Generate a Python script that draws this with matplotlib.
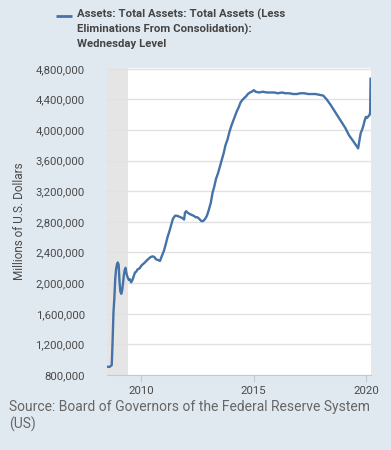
import pandas as pd
import matplotlib.pyplot as plt
import matplotlib.ticker as mticker

# Fed total assets (millions of USD)
dates = ['2008-07-02', '2008-08-06', '2008-09-10', '2008-09-24', '2008-10-08', '2008-10-22',
         '2008-11-05', '2008-11-19', '2008-12-03', '2008-12-17', '2008-12-31', '2009-01-14',
         '2009-01-28', '2009-02-11', '2009-02-25', '2009-03-11', '2009-03-25', '2009-04-08',
         '2009-04-22', '2009-05-06', '2009-05-20', '2009-06-03', '2009-06-17', '2009-07-01',
         '2009-07-22', '2009-08-12', '2009-09-02', '2009-09-23', '2009-10-14', '2009-11-04',
         '2009-12-02', '2010-01-06', '2010-02-03', '2010-03-03', '2010-04-07', '2010-05-05',
         '2010-06-02', '2010-07-07', '2010-08-04', '2010-09-01', '2010-10-06', '2010-11-03',
         '2010-12-01', '2011-01-05', '2011-02-02', '2011-03-02', '2011-04-06', '2011-05-04',
         '2011-06-01', '2011-07-06', '2011-08-03', '2011-09-07', '2011-10-05', '2011-11-02',
         '2011-11-30', '2011-12-14', '2012-01-04', '2012-01-25', '2012-02-15', '2012-03-07',
         '2012-04-04', '2012-05-02', '2012-06-06', '2012-07-04', '2012-08-01', '2012-09-05',
         '2012-10-03', '2012-11-07', '2012-12-05', '2013-01-02', '2013-02-06', '2013-03-06',
         '2013-04-03', '2013-05-01', '2013-06-05', '2013-07-03', '2013-08-07', '2013-09-04',
         '2013-10-02', '2013-11-06', '2013-12-04', '2014-01-08', '2014-02-05', '2014-03-05',
         '2014-04-02', '2014-05-07', '2014-06-04', '2014-07-02', '2014-08-06', '2014-09-03',
         '2014-10-01', '2014-11-05', '2014-12-03', '2015-01-07', '2015-02-04', '2015-04-01',
         '2015-06-03', '2015-08-05', '2015-10-07', '2015-12-02', '2016-02-03', '2016-04-06',
         '2016-06-01', '2016-08-03', '2016-10-05', '2016-12-07', '2017-02-01', '2017-04-05',
         '2017-06-07', '2017-08-02', '2017-10-04', '2017-12-06', '2018-02-07', '2018-04-04',
         '2018-06-06', '2018-08-01', '2018-10-03', '2018-12-05', '2019-02-06', '2019-04-03',
         '2019-06-05', '2019-07-17', '2019-08-14', '2019-08-28', '2019-09-18', '2019-10-09',
         '2019-10-30', '2019-11-20', '2019-12-11', '2020-01-01', '2020-01-22', '2020-02-12',
         '2020-03-04', '2020-03-11', '2020-03-18']
assets = [908000, 905000, 930000, 1250000, 1620000, 1800000,
          2050000, 2180000, 2240000, 2270000, 2240000, 2020000,
          1890000, 1860000, 1900000, 1990000, 2100000, 2170000,
          2200000, 2130000, 2090000, 2060000, 2040000, 2050000,
          2010000, 2040000, 2090000, 2140000, 2150000, 2180000,
          2190000, 2230000, 2250000, 2270000, 2300000, 2320000,
          2340000, 2350000, 2340000, 2310000, 2300000, 2290000,
          2350000, 2420000, 2500000, 2590000, 2680000, 2760000,
          2840000, 2880000, 2880000, 2870000, 2860000, 2850000,
          2830000, 2920000, 2940000, 2920000, 2910000, 2900000,
          2890000, 2880000, 2860000, 2860000, 2840000, 2810000,
          2810000, 2840000, 2880000, 2950000, 3050000, 3180000,
          3260000, 3360000, 3440000, 3520000, 3620000, 3700000,
          3800000, 3880000, 3970000, 4060000, 4120000, 4180000,
          4240000, 4300000, 4360000, 4390000, 4420000, 4440000,
          4470000, 4490000, 4500000, 4520000, 4500000, 4490000,
          4500000, 4490000, 4490000, 4490000, 4480000, 4490000,
          4480000, 4480000, 4470000, 4470000, 4480000, 4480000,
          4470000, 4470000, 4470000, 4460000, 4450000, 4400000,
          4330000, 4260000, 4180000, 4100000, 4020000, 3930000,
          3860000, 3810000, 3780000, 3760000, 3860000, 3960000,
          4000000, 4050000, 4120000, 4170000, 4160000, 4180000,
          4200000, 4240000, 4670000]

recession = ('2007-12-01', '2009-06-01')
xticks = ['2010-01-01', '2015-01-01', '2020-01-01']
xtick_labels = ['2010', '2015', '2020']

bg = '#e1e9f0'
plt.rcParams['font.family'] = ['Roboto', 'DejaVu Sans']

fig = plt.figure(figsize=(3.91, 4.5), dpi=100, facecolor=bg)
ax = fig.add_axes([0.2737, 0.1667, 0.6752, 0.6822])
ax.set_facecolor('white')

x = pd.to_datetime(dates)
ax.axvspan(pd.Timestamp(recession[0]), pd.Timestamp(recession[1]), color='#e5e5e5', lw=0, zorder=1)
ax.plot(x, assets, color='#4572a7', lw=1.7, zorder=3)

ax.set_xlim(pd.Timestamp('2008-06-25'), pd.Timestamp('2020-03-25'))
ax.set_ylim(800000, 4810000)
ax.yaxis.set_major_locator(mticker.MultipleLocator(400000))
ax.yaxis.set_major_formatter(mticker.FuncFormatter(lambda v, p: '{:,.0f}'.format(v)))
ax.set_xticks(pd.to_datetime(xticks))
ax.set_xticklabels(xtick_labels)
ax.grid(axis='y', color='#e1e1e1', lw=1, zorder=2)

for s in ['top', 'right', 'left']:
    ax.spines[s].set_visible(False)
ax.spines['bottom'].set_color('#c0cbd5')
ax.tick_params(axis='y', length=0, pad=16, labelsize=8.2, labelcolor='#4a4a4a')
ax.tick_params(axis='x', length=5, color='#c0cbd5', pad=3, labelsize=8.2, labelcolor='#4a4a4a')
ax.set_ylabel('Millions of U.S. Dollars', fontsize=8.5, color='#4a4a4a', labelpad=7)

# legend drawn as figure text
fig.add_artist(plt.Line2D([56 / 391, 72 / 391], [1 - 16 / 450, 1 - 16 / 450],
                          color='#4572a7', lw=2, solid_capstyle='butt'))
fig.text(77 / 391, 1 - 9 / 450,
         'Assets: Total Assets: Total Assets (Less\nEliminations From Consolidation):\nWednesday Level',
         fontsize=8.2, fontweight='bold', color='#444444', va='top', ha='left',
         linespacing=1.45)
fig.text(9 / 391, 1 - 400 / 450,
         'Source: Board of Governors of the Federal Reserve System\n(US)',
         fontsize=10.0, color='#666666', va='top', ha='left', linespacing=1.2)

fig.savefig('out.png', dpi=100, facecolor=bg)
